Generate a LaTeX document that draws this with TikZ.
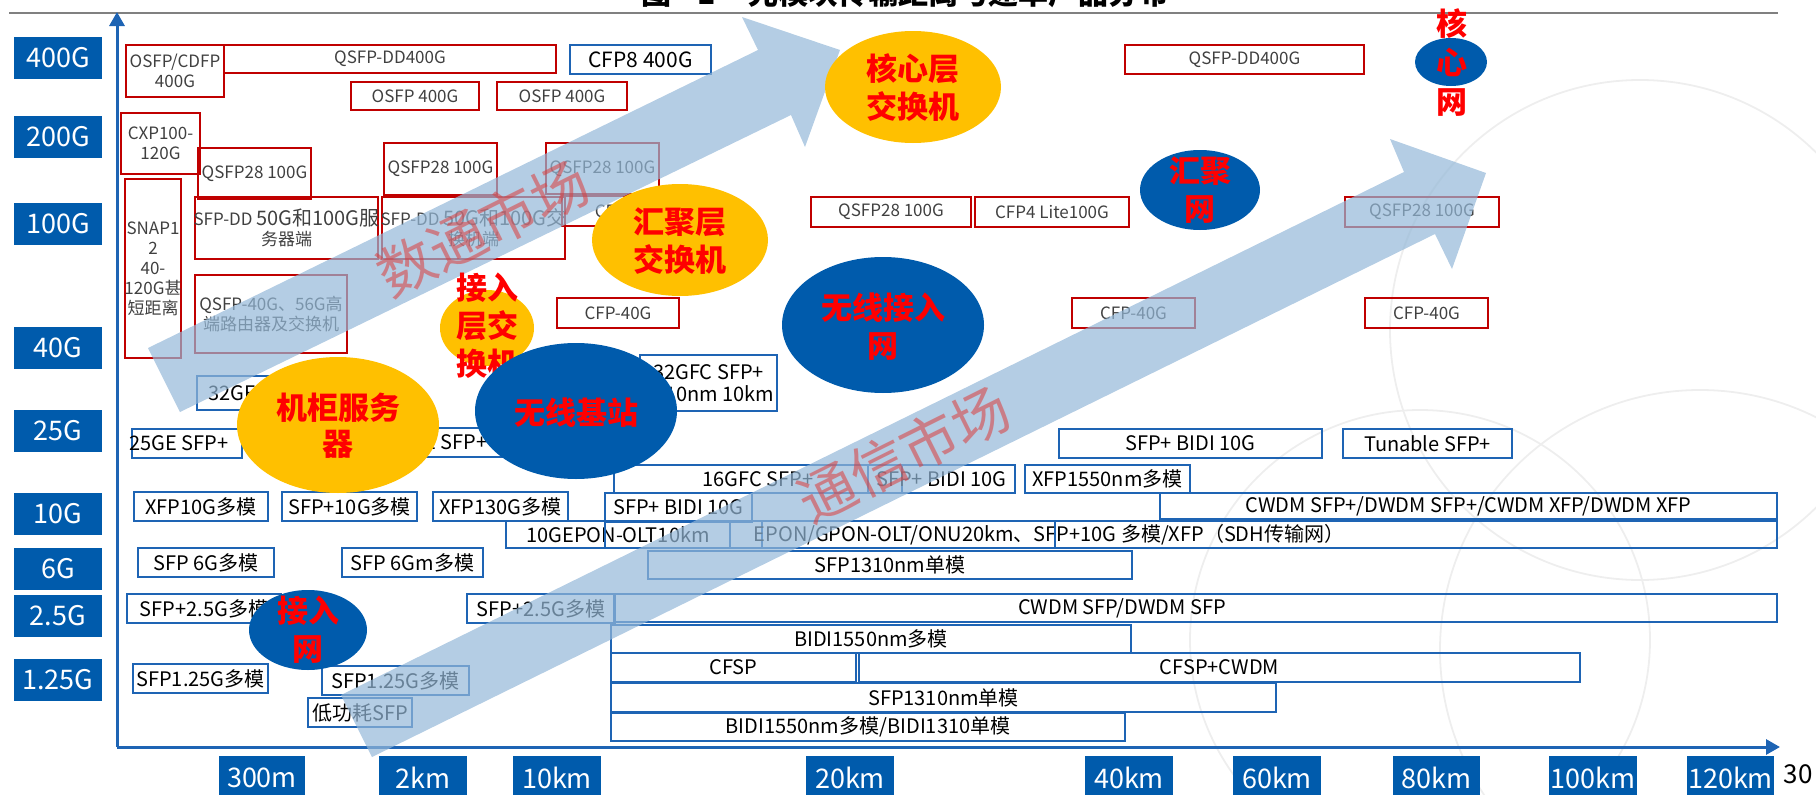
\documentclass[tikz,border=0pt]{standalone}
\usepackage{fontspec}
\setmainfont{Noto Sans CJK SC}
\usetikzlibrary{arrows.meta,shapes.geometric}
\definecolor{lblue}{RGB}{0,91,172}
\definecolor{bline}{RGB}{30,100,180}
\definecolor{rline}{RGB}{192,0,0}
\definecolor{yel}{RGB}{255,192,0}
\definecolor{arr}{RGB}{148,184,216}
\definecolor{tgray}{RGB}{64,64,64}
\definecolor{wm}{RGB}{220,60,60}
\definecolor{faint}{RGB}{238,238,238}
\definecolor{tline}{RGB}{128,128,128}
\newcommand\fs[2]{\fontsize{#1}{#2}\selectfont}
\tikzset{
 rbox/.style={draw=rline, line width=2pt, inner sep=0pt},
 bbox/.style={draw=bline, line width=2pt, inner sep=0pt},
 labbox/.style={fill=lblue, inner sep=0pt},
 rtxt/.style={text=tgray, font=\fs{17}{20}, align=center, inner sep=0pt},
 btxt/.style={text=black, font=\fs{20}{22}, align=center, inner sep=0pt},
 labtxt/.style={text=white, font=\fs{27}{30}, inner sep=0pt},
 ell/.style={ellipse, inner sep=0pt},
 etxt/.style={text=red, font=\bfseries\fs{31}{38}, align=center, inner sep=0pt},
 wmtxt/.style={text=wm, text opacity=0.55, font=\fs{57}{60}, inner sep=0pt},
 axisline/.style={draw=bline, line width=3pt, -{Triangle[length=14pt,width=15pt]}},
 faintarc/.style={draw=faint, line width=1.8pt},
}
% name, style prefix, x1, y1, x2, y2, text, text x
\newcommand\bxo[8]{%
 \node[#2box, minimum width={(#5-#3)*1pt}, minimum height={(#6-#4)*1pt}] (#1) at ({(#3+#5)/2},{(#4+#6)/2}) {};
 \node[#2txt] (#1t) at ({#8},{(#4+#6)/2}) {#7};}
\newcommand\bx[7]{\bxo{#1}{#2}{#3}{#4}{#5}{#6}{#7}{(#3+#5)/2}}
\begin{document}
\begin{tikzpicture}[x=1pt,y=-1pt]
\useasboundingbox (0,0) rectangle (1816,795);
% faint background arcs
\begin{scope}
\clip (1180,20) rectangle (1816,795);
\draw[faintarc] (1640,330) circle (250);
\draw[faintarc] (1700,650) circle (260);
\draw[faintarc] (1420,640) circle (230);
\end{scope}
% title
\coordinate (tl0) at (9,13);
\coordinate (tl1) at (1778,13);
\draw[tline, line width=2pt] (tl0) -- (tl1);
\node[anchor=base, font=\bfseries\fs{30}{30}] (tt1) at (656,4.5) {图};
\node[anchor=base, font=\bfseries\fs{30}{30}] (tt2) at (707,4.5) {1};
\node[anchor=base west, font=\bfseries\fs{30}{30}, inner sep=0pt] (tt3) at (748,4.5) {光模块传输距离与速率产品分布};
% y labels
\bx{y400}{lab}{14}{37}{102}{79}{400G}
\bx{y200}{lab}{14}{116}{102}{158}{200G}
\bx{y100}{lab}{14}{203}{102}{245}{100G}
\bx{y40}{lab}{14}{327}{102}{369}{40G}
\bx{y25}{lab}{14}{410}{102}{452}{25G}
\bx{y10}{lab}{14}{493}{102}{535}{10G}
\bx{y6}{lab}{14}{548}{102}{590}{6G}
\bx{y2}{lab}{14}{595}{102}{637}{2.5G}
\bx{y1}{lab}{14}{659}{102}{701}{1.25G}
% x labels
\bx{x300}{lab}{219}{756}{305}{800}{300m}
\bx{x2}{lab}{379}{756}{467}{800}{2km}
\bx{x10}{lab}{513}{756}{601}{800}{10km}
\bx{x20}{lab}{806}{756}{894}{800}{20km}
\bx{x40}{lab}{1085}{756}{1173}{800}{40km}
\bx{x60}{lab}{1233}{756}{1321}{800}{60km}
\bx{x80}{lab}{1393}{756}{1480}{800}{80km}
\bx{x100}{lab}{1549}{756}{1637}{800}{100km}
\bx{x120}{lab}{1687}{756}{1774}{800}{120km}
\node[font=\fs{26}{26}, inner sep=0pt] (pg) at (1798,774) {30};
% red boxes
\bx{osfpcdfp}{r}{126}{45}{224}{97}{OSFP/CDFP\\400G}
\bx{qsfpddA}{r}{224}{45}{556}{73}{QSFP-DD400G}
\bx{osfpA}{r}{351}{82}{479}{110}{OSFP 400G}
\bx{osfpB}{r}{497}{82}{627}{110}{OSFP 400G}
\bx{cxp}{r}{121}{113}{200}{174}{CXP100-\\120G}
\bx{qsfpA}{r}{198}{148}{311}{199}{QSFP28 100G}
\bx{sfpddA}{r}{195}{197}{378}{259}{SFP-DD {\fs{20}{22}50G和100G服}\\务器端}
\bx{snap}{r}{125}{179}{181}{358}{SNAP1\\2\\40-\\120G甚\\短距离}
\bx{qsfpB}{r}{384}{143}{497}{195}{QSFP28 100G}
\bx{sfpddB}{r}{382}{197}{565}{259}{SFP-DD {\fs{20}{22}50G和100G交}\\换机端}
\bx{qsfpC}{r}{546}{143}{659}{194}{QSFP28 100G}
\bxo{cfpH}{r}{562}{196}{712}{226}{CFP2 100G}{637}
\bx{qsfpD}{r}{811}{197}{971}{227}{QSFP28 100G}
\bx{cfp4}{r}{975}{197}{1129}{227}{CFP4 Lite100G}
\bx{qsfpddB}{r}{1125}{45}{1364}{74}{QSFP-DD400G}
\bx{qsfpE}{r}{1345}{197}{1499}{227}{QSFP28 100G}
\bx{qsfp40}{r}{195}{275}{347}{353}{QSFP-40G、56G高\\端路由器及交换机}
\bx{cfpA}{r}{557}{298}{679}{328}{CFP-40G}
\bx{cfpB}{r}{1072}{298}{1195}{328}{CFP-40G}
\bx{cfpC}{r}{1365}{298}{1488}{328}{CFP-40G}
% blue boxes
\bx{cfp8}{b}{570}{45}{711}{74}{\fs{21}{22}CFP8 400G}
\bx{gfcA}{b}{197}{376}{330}{410}{32GFC SFP+}
\bx{gfcB}{b}{640}{355}{777}{411}{32GFC SFP+\\1310nm 10km}
\bxo{geA}{b}{132}{429}{242}{458}{25GE SFP+}{179}
\bxo{geB}{b}{345}{428}{531}{457}{25GE SFP+}{438}
\bx{bidiA}{b}{1059}{429}{1322}{458}{SFP+ BIDI 10G}
\bx{tun}{b}{1343}{429}{1512}{458}{Tunable SFP+}
\bx{gfc16}{b}{614}{465}{902}{493}{16GFC SFP+}
\bx{bidiB}{b}{868}{465}{1015}{493}{SFP+ BIDI 10G}
\bx{xfp1550}{b}{1025}{465}{1190}{493}{XFP1550nm多模}
\bx{xfp10}{b}{134}{492}{268}{521}{XFP10G多模}
\bx{sfp10}{b}{282}{492}{417}{521}{SFP+10G多模}
\bx{xfp130}{b}{433}{492}{568}{521}{XFP130G多模}
\bx{bidiC}{b}{605}{493}{752}{522}{SFP+ BIDI 10G}
\bx{cwdmX}{b}{1160}{493}{1777}{519}{CWDM SFP+/DWDM SFP+/CWDM XFP/DWDM XFP}
\bx{epon10}{b}{506}{521}{730}{548}{10GEPON-OLT10km}
\bx{blankA}{b}{605}{521}{762}{548}{}
\bxo{epon}{b}{762}{521}{1777}{548}{EPON/GPON-OLT/ONU20km、SFP+10G 多模/XFP（SDH传输网）}{1049}
\bx{blankB}{b}{1055}{521}{1777}{548}{}
\bx{sfp6A}{b}{138}{548}{274}{577}{SFP 6G多模}
\bx{sfp6B}{b}{342}{548}{483}{577}{SFP 6Gm多模}
\bx{sfp1310A}{b}{648}{551}{1132}{579}{SFP1310nm单模}
\bx{sfp25A}{b}{127}{594}{281}{623}{SFP+2.5G多模}
\bx{sfp25B}{b}{467}{594}{615}{623}{SFP+2.5G多模}
\bxo{cwdm}{b}{614}{594}{1777}{622}{CWDM SFP/DWDM SFP}{1122}
\bx{bidi1550}{b}{611}{625}{1131}{653}{BIDI1550nm多模}
\bx{cfsp}{b}{611}{653}{856}{682}{CFSP}
\bx{cfspc}{b}{859}{653}{1580}{682}{CFSP+CWDM}
\bx{sfp1310B}{b}{611}{683}{1276}{712}{SFP1310nm单模}
\bx{bidi2}{b}{611}{713}{1125}{741}{BIDI1550nm多模/BIDI1310单模}
\bx{sfp125A}{b}{133}{664}{268}{693}{SFP1.25G多模}
\bx{sfp125B}{b}{322}{666}{469}{695}{SFP1.25G多模}
\bx{lowp}{b}{308}{698}{412}{727}{低功耗SFP}
% axes
\coordinate (o) at (117,747);
\coordinate (ytop) at (117,12);
\coordinate (xend) at (1780,747);
\draw[axisline] (o) -- (ytop);
\draw[axisline] (o) -- (xend);
% big arrows
\fill[arr, fill opacity=0.7] (148,348) -- (758,50) -- (742,17) -- (840,50) -- (805,147) -- (791,115) -- (180,412) -- cycle;
\fill[arr, fill opacity=0.7] (341,695) -- (1404,172) -- (1390,139) -- (1486,173) -- (1452,269) -- (1435,234) -- (372,757) -- cycle;
\node[wmtxt, rotate=26.5] (w1) at (483,228) {数通市场};
\node[wmtxt, rotate=26.5] (w2) at (904,454) {通信市场};
% ellipses
\node[ell, fill=yel, minimum width=176pt, minimum height=112pt] (e1) at (913,87) {};
\node[etxt] (e1t) at (913,88) {核心层\\交换机};
\node[ell, fill=yel, minimum width=176pt, minimum height=112pt] (e2) at (680,240) {};
\node[etxt] (e2t) at (680,241) {汇聚层\\交换机};
\node[ell, fill=yel, minimum width=202pt, minimum height=136pt] (e3) at (338,425) {};
\node[etxt, font=\bfseries\fs{31}{36}] (e3t) at (338,426) {机柜服务\\器};
\node[ell, fill=yel, minimum width=94pt, minimum height=76pt] (e4) at (487,328) {};
\node[etxt] (e4t) at (487,326) {接入\\层交\\换机};
\node[ell, fill=lblue, minimum width=202pt, minimum height=136pt] (e5) at (576,411) {};
\node[etxt] (e5t) at (576,413) {无线基站};
\node[ell, fill=lblue, minimum width=202pt, minimum height=136pt] (e6) at (883,325) {};
\node[etxt] (e6t) at (883,327) {无线接入\\网};
\node[ell, fill=lblue, minimum width=120pt, minimum height=80pt] (e7) at (1200,190) {};
\node[etxt] (e7t) at (1200,190) {汇聚\\网};
\node[ell, fill=lblue, minimum width=118pt, minimum height=80pt] (e8) at (308,630) {};
\node[etxt] (e8t) at (308,630) {接入\\网};
\node[ell, fill=lblue, minimum width=72pt, minimum height=48pt] (e9) at (1451,62) {};
\node[etxt, font=\bfseries\fs{31}{39}] (e9t) at (1452,63) {核\\心\\网};
\end{tikzpicture}
\end{document}
